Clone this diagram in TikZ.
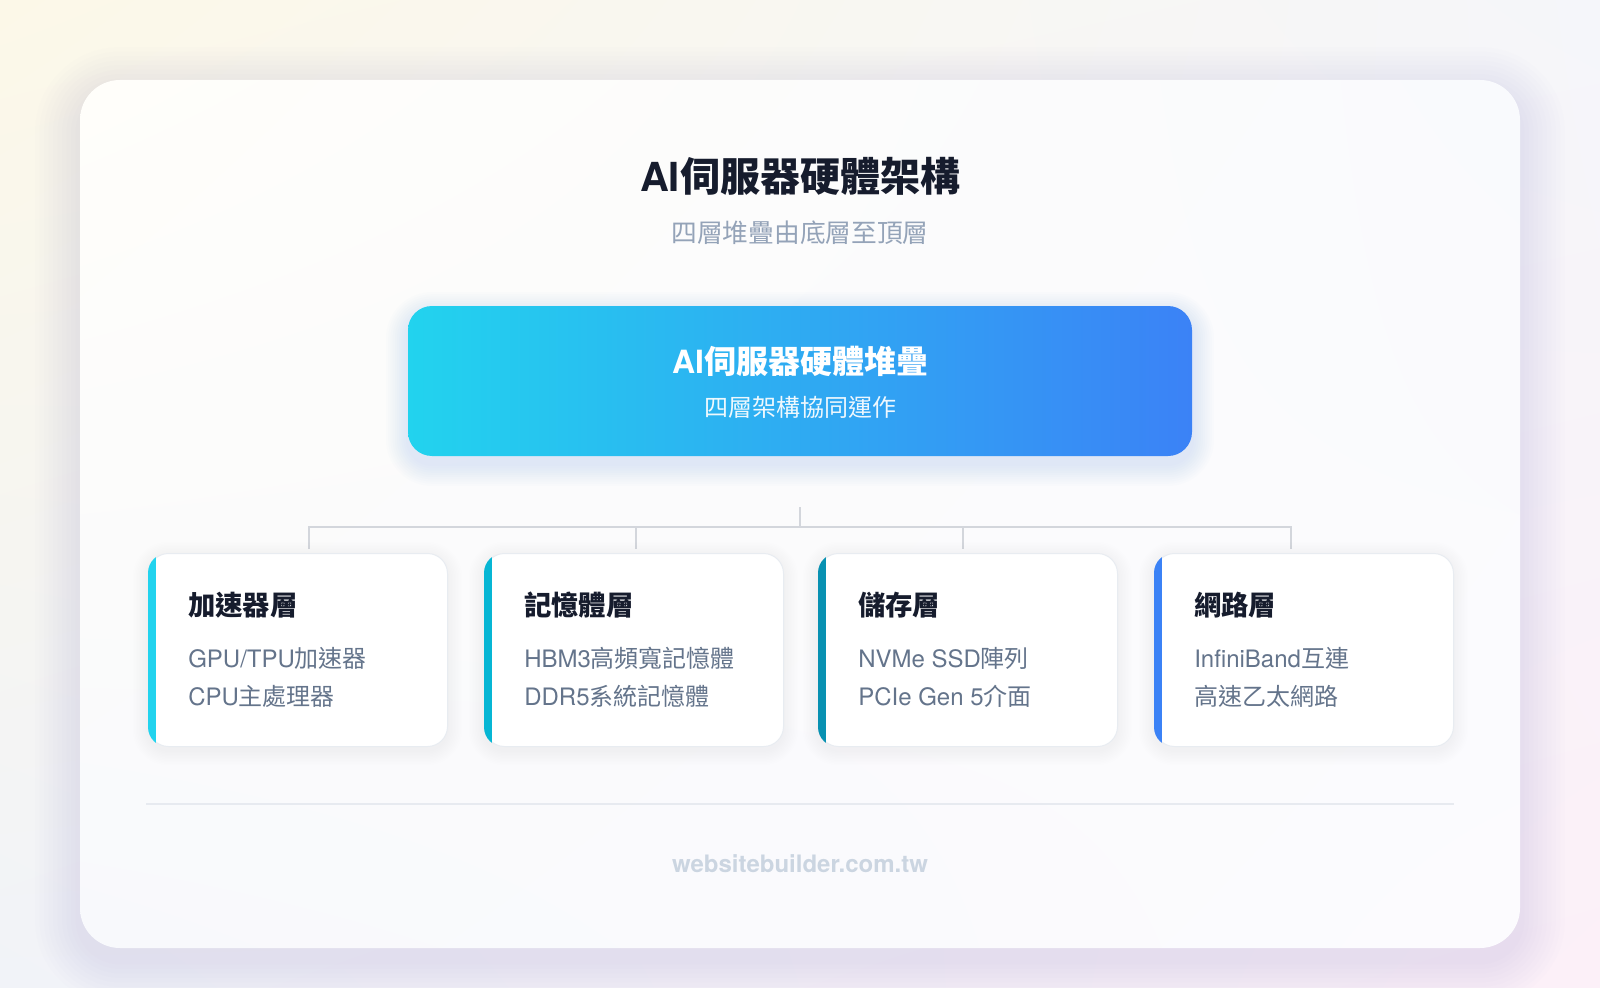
\documentclass[tikz,border=0pt]{standalone}
\usepackage{fontspec}
\setmainfont{TeX Gyre Heros}
\newfontfamily\cjk{Noto Sans CJK TC}
\usetikzlibrary{calc,shadings}
\definecolor{bgTL}{HTML}{FCF8E8}
\definecolor{bgTR}{HTML}{F5F6FA}
\definecolor{bgBL}{HTML}{F1F3F8}
\definecolor{bgBR}{HTML}{FCF0F8}
\definecolor{cdTL}{HTML}{FFFEFA}
\definecolor{cdTR}{HTML}{F9FAFD}
\definecolor{cdBL}{HTML}{F8F9FC}
\definecolor{cdBR}{HTML}{FCFBFE}
\definecolor{bigsh}{HTML}{8E88C4}
\definecolor{cardsh}{HTML}{94A3B8}
\definecolor{topA}{HTML}{22D3EE}
\definecolor{topB}{HTML}{3B82F6}
\definecolor{titlec}{HTML}{161C2D}
\definecolor{subc}{HTML}{94A3B8}
\definecolor{headc}{HTML}{161C2D}
\definecolor{bodyc}{HTML}{64748B}
\definecolor{cardline}{HTML}{E8ECF1}
\definecolor{connc}{HTML}{D3D6DC}
\definecolor{divc}{HTML}{E7EAF0}
\definecolor{footc}{HTML}{CBD5E1}
\definecolor{accA}{HTML}{22D3EE}
\definecolor{accB}{HTML}{06B6D4}
\definecolor{accC}{HTML}{0891B2}
\definecolor{accD}{HTML}{3B82F6}
% soft shadow: x1 y1 x2 y2 radius color opacity step yoffset (px)
\newcommand\sshadow[9]{%
  \foreach \i in {1,...,10}{%
    \pgfmathsetmacro\rr{(#5+\i*#8)*0.75}%
    \fill[#6, opacity=#7, rounded corners=\rr pt]
      ({#1-\i*#8},{#2-\i*#8+#9}) rectangle ({#3+\i*#8},{#4+\i*#8+#9});
  }%
}
\newcommand\layercard[6]{%
  \sshadow{#2}{553}{#2+299}{746}{20}{cardsh}{0.008}{1.5}{4}
  \node[cardbox] (#1) at (#2,553) {};
  \begin{scope}
    \clip[rounded corners=15pt] (#1.north west) rectangle (#1.south east);
    \fill[#3] (#1.north west) rectangle ([xshift=6pt]#1.south west);
  \end{scope}
  \node[headtxt] (#1h) at (#2+40,615) {#4};
  \node[bodytxt] (#1a) at (#2+40,667) {#5};
  \node[bodytxt] (#1b) at (#2+40,705) {#6};
}
\begin{document}
\begin{tikzpicture}[x=0.75pt,y=-0.75pt,
  cardbox/.style={draw=cardline, line width=0.75pt, fill=white, rounded corners=15pt,
    minimum width=224.25pt, minimum height=144.75pt, anchor=north west, inner sep=0pt},
  topbox/.style={rounded corners=18pt, left color=topA, right color=topB,
    minimum width=588pt, minimum height=112.5pt, inner sep=0pt},
  headtxt/.style={anchor=base west, inner sep=0pt, text=headc,
    font=\cjk\bfseries\fontsize{20.5}{24}\selectfont},
  bodytxt/.style={anchor=base west, inner sep=0pt, text=bodyc,
    font=\fontsize{18}{22}\selectfont},
  conn/.style={draw=connc, line width=1.5pt},
  ctext/.style={anchor=base, inner sep=0pt}]
\useasboundingbox (0,0) rectangle (1600,988);
% background
\shade[upper left=bgTL, upper right=bgTR, lower left=bgBL, lower right=bgBR] (0,0) rectangle (1600,988);
% main card
\sshadow{80}{80}{1520}{948}{40}{bigsh}{0.011}{4.5}{12}
\shade[rounded corners=30pt, upper left=cdTL, upper right=cdTR, lower left=cdBL, lower right=cdBR] (80,80) rectangle (1520,948);
% titles
\node[ctext, text=titlec, font=\fontsize{30}{36}\selectfont\bfseries] (title) at (800,192) {AI{\cjk 伺服器硬體架構}};
\node[ctext, text=subc, font=\cjk\fontsize{19.3}{23}\selectfont] (subtitle) at (800,243) {四層堆疊由底層至頂層};
% top box
\sshadow{408}{306}{1192}{456}{24}{topB}{0.011}{2.2}{8}
\node[topbox] (top) at (800,381) {};
\node[ctext, text=white, font=\fontsize{24}{28}\selectfont\bfseries] (toptitle) at (800,373) {AI{\cjk 伺服器硬體堆疊}};
\node[ctext, text=white, text opacity=0.92, font=\cjk\fontsize{18}{22}\selectfont] (topsub) at (800,416) {四層架構協同運作};
% connectors
\coordinate (hub) at (800,507);
\coordinate (bus) at (800,527);
\coordinate (j1) at (309,527);
\coordinate (j2) at (636,527);
\coordinate (j3) at (963,527);
\coordinate (j4) at (1291,527);
\coordinate (t1) at (309,549);
\coordinate (t2) at (636,549);
\coordinate (t3) at (963,549);
\coordinate (t4) at (1291,549);
\draw[conn] (hub) -- (bus);
\draw[conn] (t1) -- (j1) -- (j4) -- (t4);
\draw[conn] (j2) -- (t2);
\draw[conn] (j3) -- (t3);
% layer cards
\layercard{c1}{148}{accA}{加速器層}{GPU/TPU{\cjk 加速器}}{CPU{\cjk 主處理器}}
\layercard{c2}{484}{accB}{記憶體層}{HBM3{\cjk 高頻寬記憶體}}{DDR5{\cjk 系統記憶體}}
\layercard{c3}{818}{accC}{儲存層}{NVMe SSD{\cjk 陣列}}{PCIe Gen 5{\cjk 介面}}
\layercard{c4}{1154}{accD}{網路層}{InfiniBand{\cjk 互連}}{{\cjk 高速乙太網路}}
% divider and footer
\draw[draw=divc, line width=1.5pt] (146,804) -- (1454,804);
\node[ctext, text=footc, font=\fontsize{18}{22}\selectfont\bfseries] (footer) at (800,872) {websitebuilder.com.tw};
\end{tikzpicture}
\end{document}
